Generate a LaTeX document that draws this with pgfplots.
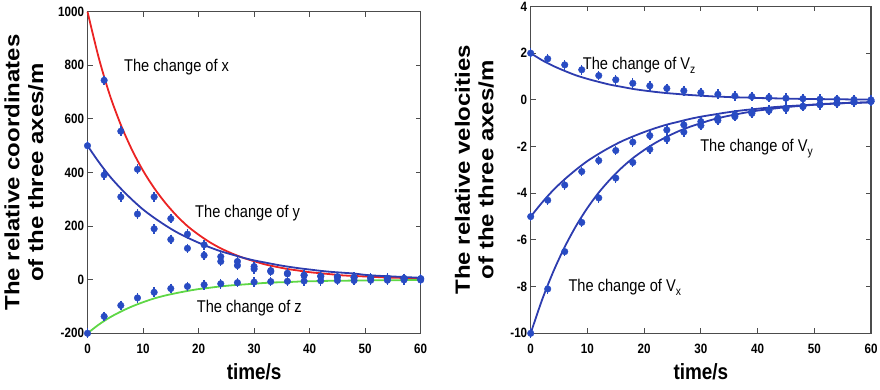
\documentclass[border=0pt]{standalone}
\usepackage{pgfplots}
\pgfplotsset{compat=1.18}
\usepackage{pgfplotstable}
\usepackage{fontspec}
\usepackage{graphicx}
\setmainfont{Liberation Sans}
\newfontfamily\nfont[FakeStretch=0.86]{Liberation Sans}
\newcommand{\tickfont}{\nfont\bfseries\fontsize{13.5}{13.5}\selectfont}
\newcommand{\annfont}{\nfont\fontsize{17}{17}\selectfont}
\newcommand{\ylab}[2]{\scalebox{1}[0.86]{\fontsize{24}{27.5}\selectfont\bfseries\begin{tabular}{@{}c@{}}#1\\#2\end{tabular}}}
\newcommand{\sub}[1]{\raisebox{-0.45ex}{\fontsize{12}{12}\selectfont #1}}
\definecolor{cred}{RGB}{235,35,35}
\definecolor{cblue}{RGB}{45,60,175}
\definecolor{cgreen}{RGB}{95,215,70}
\definecolor{mblue}{RGB}{40,75,195}

\pgfplotstableread{
t x y z
0 1000 500 -200
2 830 440 -168
4 690 386 -141
6 578 340 -119
8 485 299 -100
10 407 262 -84
12 342 231 -70
14 287 203 -59
16 240 178 -50
18 200 157 -42
20 168 138 -35
22 140 121 -30
24 117 106 -25
26 98 94 -21
28 82 82 -18
30 69 72 -15
32 57 64 -12
34 48 56 -10
36 40 49 -9
38 34 43 -7
40 28 38 -6
42 24 33 -5
44 20 29 -4
46 16 26 -4
48 14 23 -3
50 12 18 -3
52 10 15 -2
54 8 13 -2
56 7 11 -2
58 6 9 -1
60 5 7 -1
}\leftcurves

\pgfplotstableread{
t x y z
0 nan 500 -200
3 744 391 -137
6 554 309 -96
9 412 245 -68
12 309 190 -47
15 228 150 -33
18 170 117 -25
21 130 91 -19
24 86 68 -15
27 68 53 -11
30 49 40 -9
33 34 30 -7
36 22 24 -6
39 16 17 -5
42 12 14 -4
45 10 11 -3
48 8 9 -3
51 7 7 -2
54 5 6 -2
57 4 5 -1
60 3 4 -1
}\leftmarks

\pgfplotstableread{
t vx vy vz
0 -10 -5 2
2 -8.57 -4.40 1.70
4 -7.35 -3.86 1.45
6 -6.30 -3.40 1.24
8 -5.40 -2.99 1.05
10 -4.63 -2.62 0.90
12 -3.97 -2.31 0.77
14 -3.41 -2.03 0.65
16 -2.92 -1.78 0.56
18 -2.50 -1.57 0.47
20 -2.15 -1.38 0.40
22 -1.84 -1.21 0.34
24 -1.58 -1.06 0.29
26 -1.35 -0.94 0.25
28 -1.16 -0.82 0.21
30 -1.00 -0.72 0.18
32 -0.85 -0.64 0.15
34 -0.73 -0.56 0.13
36 -0.63 -0.49 0.11
38 -0.54 -0.43 0.10
40 -0.46 -0.38 0.08
42 -0.40 -0.33 0.07
44 -0.34 -0.29 0.06
46 -0.29 -0.26 0.05
48 -0.25 -0.23 0.04
50 -0.21 -0.20 0.04
52 -0.18 -0.17 0.03
54 -0.16 -0.15 0.03
56 -0.13 -0.13 0.02
58 -0.12 -0.12 0.02
60 -0.10 -0.10 0.02
}\rightcurves

\pgfplotstableread{
t vx vy vz
0 -10 -5 2
3 -8.1 -4.3 1.76
6 -6.5 -3.65 1.5
9 -5.25 -3.07 1.29
12 -4.2 -2.6 1.04
15 -3.35 -2.17 0.86
18 -2.68 -1.81 0.71
21 -2.12 -1.53 0.6
24 -1.68 -1.29 0.49
27 -1.38 -1.07 0.39
30 -1.1 -0.93 0.31
33 -0.88 -0.78 0.24
36 -0.72 -0.64 0.17
39 -0.58 -0.52 0.14
42 -0.46 -0.43 0.1
45 -0.38 -0.35 0.07
48 -0.29 -0.27 0.05
51 -0.21 -0.2 0.03
54 -0.13 -0.15 0.02
57 -0.09 -0.1 0.01
60 -0.06 -0.07 0
}\rightmarks

\pgfplotsset{
  common/.style={
    anchor=south west, scale only axis,
    xmin=0, xmax=60, xtick={0,10,...,60},
    tick align=inside, tick pos=both,
    major tick length=5pt,
    axis line style={line width=1.2pt, black!70},
    every tick/.style={line width=1pt, black!70},
    tick label style={font=\tickfont},
    xticklabel style={yshift=-7pt},
    /pgf/number format/assume math mode=true,
    /pgf/number format/1000 sep={},
    xlabel={\nfont\bfseries\fontsize{22}{22}\selectfont time/s},
    xlabel style={yshift=-6pt, inner sep=1pt},
    clip=false,
  },
  mk1/.style={only marks, mark=|, mark size=4.8pt, mblue, line width=1.4pt},
  mk2/.style={only marks, mark=*, mark size=3.3pt, mblue, mark options={draw=mblue, fill=mblue}},
}

\begin{document}
\begin{tikzpicture}[x=1pt,y=1pt]
\useasboundingbox (0,0) rectangle (880,390);
\begin{axis}[common,
  at={(87.5pt,56.7pt)}, width=333.2pt, height=321.6pt,
  ymin=-200, ymax=1000, ytick={-200,0,...,1000},
  ylabel={\ylab{The relative coordinates}{of the three axes/m}},
  every axis y label/.style={at={(axis description cs:-0.183,0.5)}, rotate=90, anchor=center},
]
\addplot[cred, line width=1.8pt, smooth] table[x=t,y=x] {\leftcurves};
\addplot[cgreen, line width=1.8pt, smooth] table[x=t,y=z] {\leftcurves};
\addplot[cblue, line width=1.8pt, smooth] table[x=t,y=y] {\leftcurves};
\addplot[mk1] table[x=t,y=x] {\leftmarks};
\addplot[mk2] table[x=t,y=x] {\leftmarks};
\addplot[mk1] table[x=t,y=y] {\leftmarks};
\addplot[mk2] table[x=t,y=y] {\leftmarks};
\addplot[mk1] table[x=t,y=z] {\leftmarks};
\addplot[mk2] table[x=t,y=z] {\leftmarks};
\node[anchor=base west, font=\annfont, inner sep=0pt] at (axis cs:6.57,775) {The change of x};
\node[anchor=base west, font=\annfont, inner sep=0pt] at (axis cs:19.36,233) {The change of y};
\node[anchor=base west, font=\annfont, inner sep=0pt] at (axis cs:19.66,-123) {The change of z};
\end{axis}
\begin{axis}[common,
  at={(530.7pt,56.7pt)}, width=340.3pt, height=326.8pt,
  ymin=-10, ymax=4, ytick={-10,-8,...,4},
  ylabel={\ylab{The relative velocities}{of the three axes/m}},
  every axis y label/.style={at={(axis description cs:-0.158,0.5)}, rotate=90, anchor=center},
]
\addplot[cblue, line width=1.8pt, smooth] table[x=t,y=vz] {\rightcurves};
\addplot[cblue, line width=1.8pt, smooth] table[x=t,y=vy] {\rightcurves};
\addplot[cblue, line width=1.8pt, smooth] table[x=t,y=vx] {\rightcurves};
\addplot[mk1] table[x=t,y=vz] {\rightmarks};
\addplot[mk2] table[x=t,y=vz] {\rightmarks};
\addplot[mk1] table[x=t,y=vy] {\rightmarks};
\addplot[mk2] table[x=t,y=vy] {\rightmarks};
\addplot[mk1] table[x=t,y=vx] {\rightmarks};
\addplot[mk2] table[x=t,y=vx] {\rightmarks};
\node[anchor=base west, font=\annfont, inner sep=0pt] at (axis cs:9.17,1.32) {The change of V\sub{z}};
\node[anchor=base west, font=\annfont, inner sep=0pt] at (axis cs:29.86,-2.22) {The change of V\sub{y}};
\node[anchor=base west, font=\annfont, inner sep=0pt] at (axis cs:6.63,-8.22) {The change of V\sub{x}};
\end{axis}
\end{tikzpicture}
\end{document}
